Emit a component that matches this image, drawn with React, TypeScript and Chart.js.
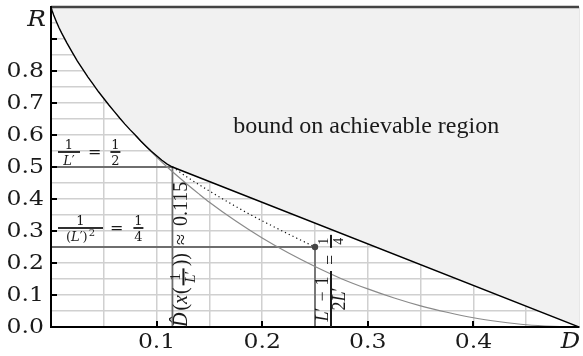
import { useEffect, useRef } from 'react';
import { Chart, registerables } from 'chart.js';
Chart.register(...registerables);

// ---- data ----
const boundD = [0, 0.001, 0.0025, 0.005, 0.0075, 0.01, 0.015, 0.02, 0.025, 0.03, 0.035, 0.04, 0.045, 0.05, 0.055, 0.06, 0.065, 0.07, 0.075, 0.08, 0.085, 0.09, 0.095, 0.1, 0.105, 0.11, 0.115, 0.5];
const boundR = [1, 0.989, 0.975, 0.955, 0.936, 0.919, 0.888, 0.859, 0.831, 0.806, 0.781, 0.758, 0.735, 0.714, 0.693, 0.673, 0.653, 0.634, 0.616, 0.599, 0.581, 0.565, 0.549, 0.535, 0.521, 0.509, 0.5, 0];
const entropyD = [0.08, 0.09, 0.1, 0.11, 0.12, 0.13, 0.14, 0.15, 0.175, 0.2, 0.225, 0.25, 0.275, 0.3, 0.325, 0.35, 0.375, 0.4, 0.425, 0.45, 0.475, 0.5];
const entropyR = [0.598, 0.5635, 0.531, 0.5, 0.471, 0.443, 0.416, 0.39, 0.331, 0.278, 0.231, 0.189, 0.151, 0.119, 0.0905, 0.066, 0.046, 0.029, 0.0165, 0.007, 0.002, 0];
const timeShareD = [0.115, 0.13, 0.15, 0.17, 0.19, 0.21, 0.23, 0.25];
const timeShareR = [0.5, 0.466, 0.425, 0.386, 0.349, 0.315, 0.282, 0.25];
const guideAD = [0, 0.115, 0.115];
const guideAR = [0.5, 0.5, 0];
const guideBD = [0, 0.25, 0.25];
const guideBR = [0.25, 0.25, 0];
const markerD = [0.25];
const markerR = [0.25];
const topD = [0, 0.5];
const topR = [1, 1];
const xTickValues = [0.1, 0.2, 0.3, 0.4];
const xTickLabels = ['0.1', '0.2', '0.3', '0.4'];
const yTickValues = [0, 0.1, 0.2, 0.3, 0.4, 0.5, 0.6, 0.7, 0.8];
const yTickLabels = ['0.0', '0.1', '0.2', '0.3', '0.4', '0.5', '0.6', '0.7', '0.8'];
const yMarkValues = [0.1, 0.2, 0.3, 0.4, 0.5, 0.6, 0.7, 0.8, 0.9];
const xAxisTitle = 'D';
const yAxisTitle = 'R';
const regionText = 'bound on achievable region';

const zip = (xs: number[], ys: number[]) => xs.map((x, i) => ({ x, y: ys[i] }));

type Run = { s: string; font: string; gap?: number; dy?: number };
type Frac = { num: Run[]; den: Run[]; bar: number; w: number; denCap: number };
type Item = Run | Frac | { space: number };

function runsW(ctx: CanvasRenderingContext2D, runs: Run[]) {
  let w = 0;
  for (const r of runs) {
    ctx.font = r.font;
    w += ctx.measureText(r.s).width + (r.gap || 0);
  }
  return w;
}
function drawRuns(ctx: CanvasRenderingContext2D, runs: Run[], x: number, y: number) {
  for (const r of runs) {
    ctx.font = r.font;
    ctx.fillText(r.s, x, y + (r.dy || 0));
    x += ctx.measureText(r.s).width + (r.gap || 0);
  }
  return x;
}
function drawItems(ctx: CanvasRenderingContext2D, items: Item[], x: number, baseline: number, axis: number) {
  for (const it of items) {
    if ('space' in it) {
      x += it.space;
    } else if ('num' in it) {
      const wn = runsW(ctx, it.num);
      const wd = runsW(ctx, it.den);
      const w = it.w;
      const ay = baseline - axis;
      ctx.fillRect(x, ay - it.bar / 2, w, it.bar);
      drawRuns(ctx, it.num, x + (w - wn) / 2, ay - it.bar / 2 - 2);
      drawRuns(ctx, it.den, x + (w - wd) / 2, ay + it.bar / 2 + 2 + it.denCap);
      x += w;
    } else {
      x = drawRuns(ctx, [it], x, baseline);
    }
  }
  return x;
}
function wideText(ctx: CanvasRenderingContext2D, s: string, x: number, y: number, sx: number) {
  ctx.save();
  ctx.translate(x, y);
  ctx.scale(sx, 1);
  ctx.fillText(s, 0, 0);
  ctx.restore();
}

const TICK_FONT = '21px "DejaVu Serif"';
const HF = (s: number, it = false) => `${it ? 'italic ' : ''}${s}px "DejaVu Serif"`;
const RF = (s: number, it = false) => `${it ? 'italic ' : ''}${s}px "Liberation Serif"`;

const decor = {
  id: 'decor',
  afterDraw(chart: any) {
    const ctx: CanvasRenderingContext2D = chart.ctx;
    const xs = chart.scales.x;
    const ys = chart.scales.y;
    const area = chart.chartArea;
    ctx.save();
    // inward tick marks
    ctx.strokeStyle = '#000';
    ctx.lineWidth = 2;
    ctx.beginPath();
    for (const v of xTickValues) {
      const px = Math.round(xs.getPixelForValue(v));
      ctx.moveTo(px, area.bottom);
      ctx.lineTo(px, area.bottom - 6);
    }
    for (const v of yMarkValues) {
      const py = Math.round(ys.getPixelForValue(v));
      ctx.moveTo(area.left, py);
      ctx.lineTo(area.left + 6, py);
    }
    ctx.stroke();

    ctx.fillStyle = '#1a1a1a';
    ctx.font = TICK_FONT;
    ctx.textBaseline = 'alphabetic';
    ctx.textAlign = 'center';
    xTickValues.forEach((v, i) => wideText(ctx, xTickLabels[i], xs.getPixelForValue(v), area.bottom + 21, 1.12));
    ctx.textAlign = 'right';
    yTickValues.forEach((v, i) => wideText(ctx, yTickLabels[i], area.left - 7, ys.getPixelForValue(v) + 6, 1.12));
    ctx.font = HF(23, true);
    wideText(ctx, yAxisTitle, area.left - 5, area.top + 19, 1.08);
    wideText(ctx, xAxisTitle, area.right + 1, area.bottom + 21, 1.05);

    // region text
    ctx.textAlign = 'center';
    ctx.font = RF(24);
    ctx.fillText(regionText, xs.getPixelForValue(0.2985), ys.getPixelForValue(0.606));

    ctx.textAlign = 'left';
    const fracFont = HF(13);
    const fracIt = HF(13, true);
    // label A: 1/L' = 1/2
    const aItems: Item[] = [
      { num: [{ s: '1', font: fracFont }], den: [{ s: 'L', font: fracIt }, { s: '′', font: fracFont }], bar: 1.8, w: 22, denCap: 10 },
      { space: 8 },
      { s: '=', font: HF(16) },
      { space: 9 },
      { num: [{ s: '1', font: fracFont }], den: [{ s: '2', font: fracFont }], bar: 1.8, w: 10, denCap: 10 },
    ];
    drawItems(ctx, aItems, area.left + 7, ys.getPixelForValue(0.5) - 10, 5);
    // label B: 1/(L')^2 = 1/4
    const bItems: Item[] = [
      { num: [{ s: '1', font: fracFont }], den: [{ s: '(', font: fracFont }, { s: 'L', font: fracIt }, { s: '′', font: fracFont }, { s: ')', font: fracFont, gap: 1 }, { s: '2', font: HF(10), dy: -5 }], bar: 1.8, w: 45, denCap: 10 },
      { space: 7 },
      { s: '=', font: HF(16) },
      { space: 10 },
      { num: [{ s: '1', font: fracFont }], den: [{ s: '4', font: fracFont }], bar: 1.8, w: 10, denCap: 10 },
    ];
    drawItems(ctx, bItems, area.left + 7, ys.getPixelForValue(0.25) - 14, 5);

    // label C rotated: D^(x(1/L')) ≈ 0.115
    const cMain = RF(20);
    const cIt = RF(20, true);
    const cItems: Item[] = [
      { s: 'D\u0302', font: cIt, gap: 2 },
      { s: '(', font: cMain },
      { s: 'x', font: cIt, gap: 1 },
      { s: '(', font: cMain, gap: 2 },
      { num: [{ s: '1', font: RF(15) }], den: [{ s: 'L', font: RF(15, true) }, { s: '′', font: RF(15) }], bar: 2, w: 17, denCap: 9 },
      { space: 2 },
      { s: '))', font: cMain },
      { space: 8 },
      { s: '≈', font: cMain },
      { space: 8 },
      { s: '0.115', font: cMain },
    ];
    ctx.save();
    ctx.translate(xs.getPixelForValue(0.115) + 15, area.bottom);
    ctx.rotate(-Math.PI / 2);
    drawItems(ctx, cItems, 0, 0, 4);
    ctx.restore();

    // label D rotated: (L'-1)/(2L') = 1/4
    const dMain = RF(18);
    const dIt = RF(18, true);
    const dItems: Item[] = [
      { num: [{ s: 'L', font: dIt }, { s: '′', font: dMain, gap: 6 }, { s: '−', font: dMain, gap: 6 }, { s: '1', font: dMain }], den: [{ s: '2', font: dMain }, { s: 'L', font: dIt }, { s: '′', font: dMain }], bar: 2, w: 56, denCap: 11 },
      { space: 6 },
      { s: '=', font: dMain },
      { space: 7 },
      { num: [{ s: '1', font: RF(14) }], den: [{ s: '4', font: RF(14) }], bar: 2, w: 13, denCap: 9 },
    ];
    ctx.save();
    ctx.translate(xs.getPixelForValue(0.25) + 21, area.bottom);
    ctx.rotate(-Math.PI / 2);
    drawItems(ctx, dItems, 0, 0, 5);
    ctx.restore();

    ctx.restore();
  },
};

export default function App() {
  const ref = useRef<HTMLCanvasElement>(null);
  useEffect(() => {
    document.body.style.margin = '0';
    const canvas = ref.current!;
    const line = (data: any[], color: string, width: number, extra: any = {}) => ({
      data,
      borderColor: color,
      borderWidth: width,
      pointRadius: 0,
      tension: 0,
      fill: false,
      ...extra,
    });
    const chart = new Chart(canvas, {
      type: 'line',
      data: {
        datasets: [
          line(zip(topD, topR), '#444', 2.5, { clip: 4, order: 0 }),
          {
            data: zip(markerD, markerR),
            showLine: false,
            pointRadius: 3.2,
            pointBackgroundColor: '#444',
            pointBorderWidth: 0,
            order: 1,
          },
          line(zip(boundD, boundR), '#000', 1.4, { fill: 'end', backgroundColor: '#f1f1f1', order: 2 }),
          line(zip(timeShareD, timeShareR), '#111', 1.2, { borderDash: [1.2, 3], cubicInterpolationMode: 'monotone', order: 3 }),
          line(zip(entropyD, entropyR), '#8a8a8a', 1.2, { cubicInterpolationMode: 'monotone', order: 4 }),
          line(zip(guideAD, guideAR), '#6e6e6e', 1.8, { order: 5 }),
          line(zip(guideBD, guideBR), '#6e6e6e', 1.8, { order: 5 }),
        ] as any,
      },
      options: {
        animation: false,
        responsive: false,
        events: [],
        layout: { padding: { left: 51, right: 1, top: 7, bottom: 29 } },
        plugins: {
          legend: { display: false },
          tooltip: { enabled: false },
          filler: { drawTime: 'beforeDatasetsDraw' },
        } as any,
        scales: {
          x: {
            type: 'linear',
            min: 0,
            max: 0.5,
            ticks: { display: false, stepSize: 0.05 },
            grid: { color: '#d0d0d0', lineWidth: 1.5, drawTicks: false },
            border: { display: true, color: '#000', width: 2, z: 1 },
          },
          y: {
            type: 'linear',
            min: 0,
            max: 1,
            ticks: { display: false, stepSize: 0.05 },
            grid: { color: '#d0d0d0', lineWidth: 1.5, drawTicks: false },
            border: { display: true, color: '#000', width: 2, z: 1 },
          },
        } as any,
      },
      plugins: [decor],
    });
    return () => chart.destroy();
  }, []);
  return <canvas ref={ref} width={583} height={356} style={{ display: 'block' }} />;
}
